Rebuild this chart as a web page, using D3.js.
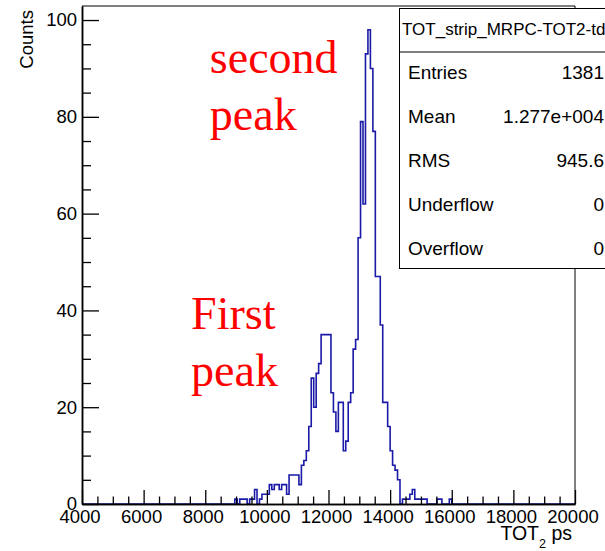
<!DOCTYPE html>
<html>
<head>
<meta charset="utf-8">
<script src="https://cdn.jsdelivr.net/npm/d3@7"></script>
<style>
  html, body { margin: 0; padding: 0; background: #fff; }
  svg { display: block; }
</style>
</head>
<body>
<svg id="chart" width="605" height="551"></svg>
<script>
// Histogram binning (ps)
const binWidth = 80;
const firstBinLow = 8960;
const axisRange = [4000, 20000];

// Bin contents, one value per 80 ps bin starting at firstBinLow
const counts = [
  1, 0, 1, 1, 1, 0, 1, 1, 3, 0,
  1, 2, 2, 2, 4, 3, 4, 4, 3, 4,
  4, 2, 6, 6, 6, 6, 4, 8, 9, 11,
  16, 26, 20, 27, 29, 35, 35, 35, 35, 23,
  19, 15, 21, 21, 11, 13, 21, 23, 32, 34,
  55, 79, 62, 93, 98, 90, 77, 47, 47, 37,
  21, 21, 16, 11, 8, 7, 5, 0, 1, 1,
  1, 2, 3, 1, 1, 1, 1, 1, 0, 0,
  0, 0, 1, 1, 0, 0, 0, 1
];

// Axis ticks
const xMajorTicks = [4000, 6000, 8000, 10000, 12000, 14000, 16000, 18000, 20000];
const xMinorTicks = [4500, 5000, 5500, 6500, 7000, 7500, 8500, 9000, 9500,
  10500, 11000, 11500, 12500, 13000, 13500, 14500, 15000, 15500,
  16500, 17000, 17500, 18500, 19000, 19500];
const yMajorTicks = [0, 20, 40, 60, 80, 100];
const yMinorTicks = [5, 10, 15, 25, 30, 35, 45, 50, 55, 65, 70, 75, 85, 90, 95];
const yMax = 102.9;

// Statistics box
const histName = "TOT_strip_MRPC-TOT2-tdc";
const statsLabels = ["Entries", "Mean", "RMS", "Underflow", "Overflow"];
const statsValues = ["1381", "1.277e+004", "945.6", "0", "0"];

// Annotations: text lines and the (ps, counts) position of the first baseline
const noteLines = [["second", "peak"], ["First", "peak"]];
const noteAt = [[8150, 89], [7540, 36.2]];

const svg = d3.select("#chart");
const W = 605, H = 551;
const frame = { left: 82, right: 575, top: 6, bottom: 504 };
const sans = "'Liberation Sans', Arial, Helvetica, sans-serif";
const serif = "'Liberation Serif', 'Times New Roman', serif";

svg.append("rect").attr("width", W).attr("height", H).attr("fill", "#fff");

const x = d3.scaleLinear().domain(axisRange).range([frame.left, frame.right]);
const y = d3.scaleLinear().domain([0, yMax]).range([frame.bottom, frame.top]);

// Histogram outline as a step line
const pts = [{ e: axisRange[0], c: 0 }];
counts.forEach((c, i) => pts.push({ e: firstBinLow + i * binWidth, c }));
pts.push({ e: firstBinLow + counts.length * binWidth, c: 0 });
pts.push({ e: axisRange[1], c: 0 });

const step = d3.line()
  .x(d => x(d.e))
  .y(d => y(d.c))
  .curve(d3.curveStepAfter);

svg.append("path")
  .datum(pts)
  .attr("d", step)
  .attr("fill", "none")
  .attr("stroke", "#1a1aa6")
  .attr("stroke-width", 1.6)
  .attr("stroke-linejoin", "miter");

// Frame top and right edges
svg.append("path")
  .attr("d", `M${frame.left},${frame.top}H${frame.right}V${frame.bottom}`)
  .attr("fill", "none").attr("stroke", "#000").attr("stroke-width", 1);

// X axis: minor ticks, then major ticks with labels
const gxMinor = svg.append("g").attr("transform", `translate(0,${frame.bottom})`)
  .call(d3.axisBottom(x).tickValues(xMinorTicks).tickSize(-7.5).tickSizeOuter(0).tickFormat(""));
const gx = svg.append("g").attr("transform", `translate(0,${frame.bottom})`)
  .call(d3.axisBottom(x).tickValues(xMajorTicks).tickSize(-14).tickSizeOuter(0).tickPadding(6)
    .tickFormat(d3.format("d")));

// Y axis
const gyMinor = svg.append("g").attr("transform", `translate(${frame.left},0)`)
  .call(d3.axisLeft(y).tickValues(yMinorTicks).tickSize(-9).tickSizeOuter(0).tickFormat(""));
const gy = svg.append("g").attr("transform", `translate(${frame.left},0)`)
  .call(d3.axisLeft(y).tickValues(yMajorTicks).tickSize(-17).tickSizeOuter(0).tickPadding(5)
    .tickFormat(d3.format("d")));

[gxMinor, gx, gyMinor, gy].forEach(g => {
  g.selectAll(".domain").attr("stroke", "#000").attr("stroke-width", 1.5);
  g.selectAll(".tick line").attr("stroke", "#000").attr("stroke-width", 1.3);
});
[gx, gy].forEach(g => {
  g.attr("font-family", sans).attr("font-size", 18.5);
  g.selectAll(".tick text").attr("fill", "#000");
});
gx.selectAll(".tick text").attr("dx", -2.5);

// Axis titles
const xt = svg.append("text")
  .attr("x", 572).attr("y", 540)
  .attr("text-anchor", "end")
  .attr("font-family", sans).attr("font-size", 19.5).attr("fill", "#000");
xt.append("tspan").text("TOT");
xt.append("tspan").attr("dy", 8).attr("font-size", 12.5).text("2");
xt.append("tspan").attr("dy", -8).text(" ps");

svg.append("text")
  .attr("transform", "translate(33,10) rotate(-90)")
  .attr("text-anchor", "end")
  .attr("font-family", sans).attr("font-size", 18.5).attr("fill", "#000")
  .text("Counts");

// Peak annotations
noteLines.forEach((lines, k) => {
  const px = x(noteAt[k][0]);
  const py = y(noteAt[k][1]);
  lines.forEach((t, i) => {
    svg.append("text")
      .attr("x", px).attr("y", py + i * 57)
      .attr("font-family", serif).attr("font-size", 46)
      .attr("fill", "#ff0000")
      .text(t);
  });
});

// Statistics box
const box = svg.append("g");
box.append("rect")
  .attr("x", 399.5).attr("y", 8.5).attr("width", 300).attr("height", 260)
  .attr("fill", "#fff").attr("stroke", "#000").attr("stroke-width", 1);
box.append("line")
  .attr("x1", 399.5).attr("x2", 700).attr("y1", 52).attr("y2", 52)
  .attr("stroke", "#000").attr("stroke-width", 1);
box.append("text")
  .attr("x", 402).attr("y", 34.5)
  .attr("font-family", sans).attr("font-size", 17).attr("fill", "#000")
  .text(histName);
statsLabels.forEach((lab, i) => {
  const by = 78.5 + i * 44;
  box.append("text")
    .attr("x", 408).attr("y", by)
    .attr("font-family", sans).attr("font-size", 19).attr("fill", "#000")
    .text(lab);
  box.append("text")
    .attr("x", 604).attr("y", by)
    .attr("text-anchor", "end")
    .attr("font-family", sans).attr("font-size", 19).attr("fill", "#000")
    .text(statsValues[i]);
});
</script>
</body>
</html>
